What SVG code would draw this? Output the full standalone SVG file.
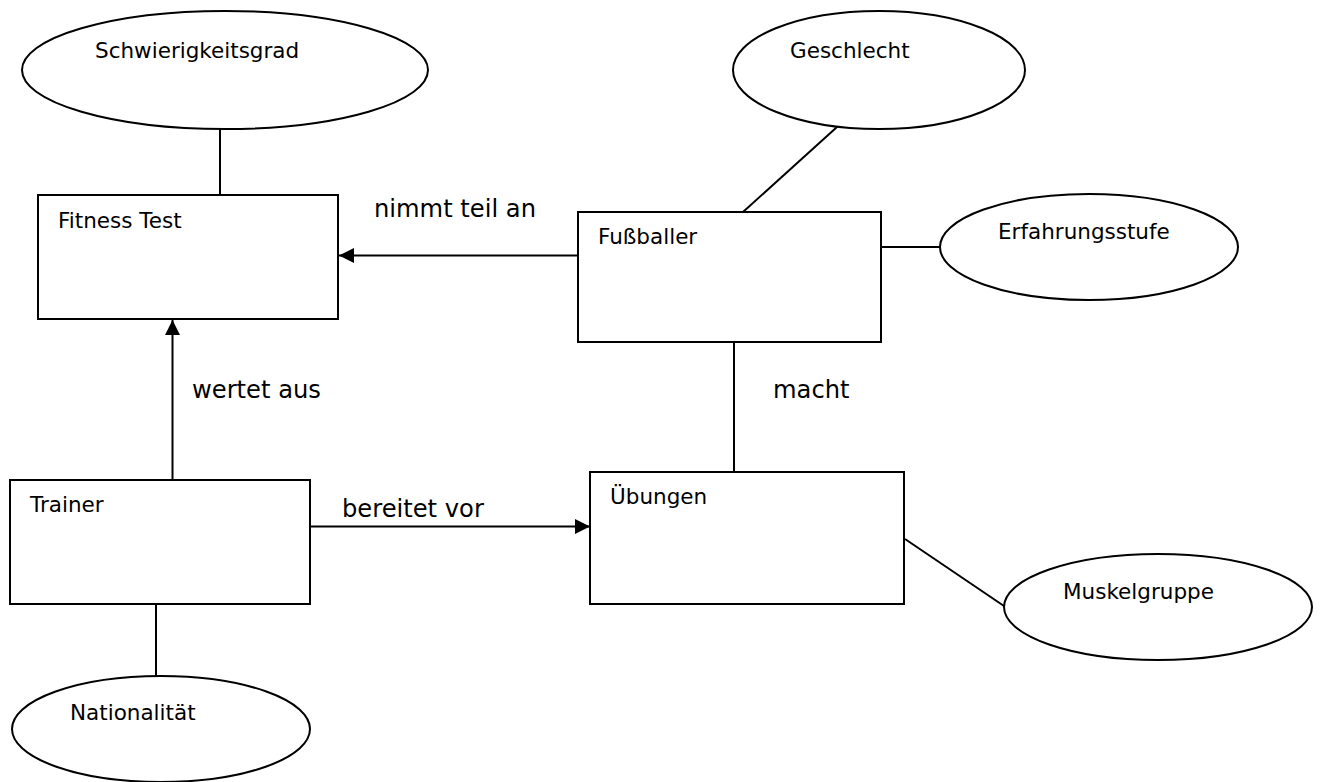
<svg xmlns="http://www.w3.org/2000/svg" width="1321" height="782" viewBox="0 0 1321 782">
<style>
  .shape { fill: #ffffff; stroke: #000000; stroke-width: 2; }
  .conn { fill: none; stroke: #000000; stroke-width: 2; }
  .lbl { font-family: "DejaVu Sans", Verdana, sans-serif; font-size: 21.5px; fill: #000000; }
  .rel { font-family: "DejaVu Sans", Verdana, sans-serif; font-size: 24.2px; fill: #000000; }
</style>
<defs>
  <marker id="arrow" markerUnits="userSpaceOnUse" markerWidth="15" markerHeight="15" refX="15" refY="7.5" orient="auto">
    <path d="M0,0 L15,7.5 L0,15 Z" fill="#000000"/>
  </marker>
</defs>
<rect width="1321" height="782" fill="#ffffff"/>

<g id="connectors">
  <line class="conn" x1="220" y1="129" x2="220" y2="195"/>
  <line class="conn" x1="743" y1="212" x2="837" y2="127"/>
  <line class="conn" x1="881" y1="247" x2="940" y2="247"/>
  <line class="conn" x1="734" y1="342" x2="734" y2="472"/>
  <line class="conn" x1="905" y1="539" x2="1004" y2="606"/>
  <line class="conn" x1="156" y1="604" x2="156" y2="676"/>
  <line class="conn" x1="578" y1="255.5" x2="339" y2="255.5" marker-end="url(#arrow)"/>
  <line class="conn" x1="172.5" y1="480" x2="172.5" y2="320" marker-end="url(#arrow)"/>
  <line class="conn" x1="310" y1="526.5" x2="590" y2="526.5" marker-end="url(#arrow)"/>
  <text class="rel" x="374" y="217">nimmt teil an</text>
  <text class="rel" x="192" y="398">wertet aus</text>
  <text class="rel" x="342" y="517">bereitet vor</text>
  <text class="rel" x="773" y="398">macht</text>
</g>

<g id="schwierigkeitsgrad">
  <ellipse class="shape" cx="225" cy="70" rx="203" ry="59"/>
  <text class="lbl" x="95" y="58">Schwierigkeitsgrad</text>
</g>
<g id="fitness-test">
  <rect class="shape" x="38" y="195" width="300" height="124"/>
  <text class="lbl" x="58" y="228">Fitness Test</text>
</g>
<g id="geschlecht">
  <ellipse class="shape" cx="879" cy="70" rx="146" ry="59"/>
  <text class="lbl" x="790" y="58">Geschlecht</text>
</g>
<g id="fussballer">
  <rect class="shape" x="578" y="212" width="303" height="130"/>
  <text class="lbl" x="598" y="244">Fußballer</text>
</g>
<g id="erfahrungsstufe">
  <ellipse class="shape" cx="1089" cy="247" rx="149" ry="53"/>
  <text class="lbl" x="998" y="239">Erfahrungsstufe</text>
</g>
<g id="trainer">
  <rect class="shape" x="10" y="480" width="300" height="124"/>
  <text class="lbl" x="30" y="512">Trainer</text>
</g>
<g id="nationalitaet">
  <ellipse class="shape" cx="161" cy="729" rx="149" ry="53"/>
  <text class="lbl" x="70" y="720">Nationalität</text>
</g>
<g id="uebungen">
  <rect class="shape" x="590" y="472" width="314" height="132"/>
  <text class="lbl" x="610" y="504">Übungen</text>
</g>
<g id="muskelgruppe">
  <ellipse class="shape" cx="1158" cy="607" rx="154" ry="53"/>
  <text class="lbl" x="1063" y="599">Muskelgruppe</text>
</g>
</svg>
